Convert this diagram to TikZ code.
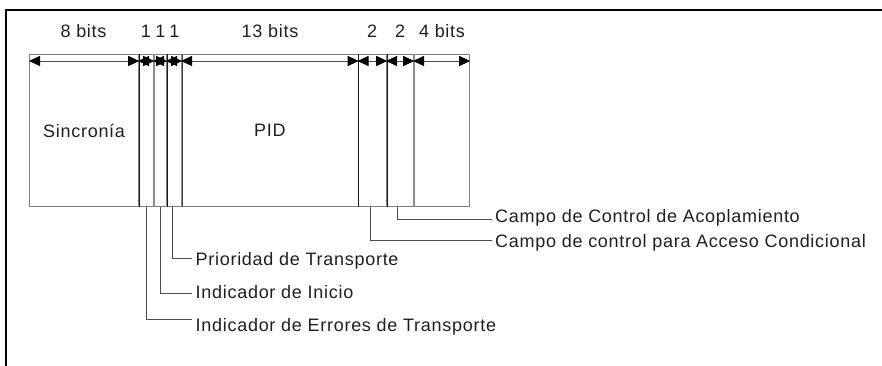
\documentclass[tikz,border=0pt]{standalone}
\usepackage{fontspec}
\setmainfont{Liberation Sans}[LetterSpace=4]
\usetikzlibrary{arrows.meta}
\begin{document}
\begin{tikzpicture}[x=1pt,y=-1pt,
  field/.style={draw=black!50,line width=1.2pt,inner sep=0pt,anchor=north west,minimum height=152pt,text=black!88},
  blk/.style={draw=black!90,line width=1pt},
  gry/.style={draw=black!45,line width=2.2pt},
  dim/.style={draw=black!70,line width=1pt,{Triangle[length=11pt,width=10pt,color=black,fill=black]}-{Triangle[length=11pt,width=10pt,color=black,fill=black]}},
  toplbl/.style={inner sep=0pt,text=black!88,text height=13pt,text depth=0pt},
  lead/.style={draw=black!70,line width=1pt},
  lbl/.style={anchor=west,inner xsep=3.5pt,inner ysep=0pt,text=black!88,text height=13pt,text depth=0pt},
  frame/.style={draw=black,line width=2.5pt}
]
\useasboundingbox (0,0) rectangle (882,365);
\fontsize{18}{21}\selectfont
% frame (partial)
\coordinate (ftl) at (6,10);
\coordinate (ftr) at (884,10);
\coordinate (fbl) at (6,367);
\draw[frame] (fbl) -- (ftl) -- (ftr);
% fields
\node[field,minimum width=109pt] (sync) at (29,54) {Sincronía};
\node[field,minimum width=15pt] (tei) at (138,54) {};
\node[field,minimum width=13pt] (pusi) at (153,54) {};
\node[field,minimum width=15pt] (prio) at (166,54) {};
\node[field,minimum width=176.5pt] (pid) at (181,54) {PID};
\node[field,minimum width=28.5pt] (tsc) at (357.5,54) {};
\node[field,minimum width=27pt] (afc) at (386,54) {};
\node[field,minimum width=56pt] (cc) at (413,54) {};
% dividers
\draw[blk] (sync.north east) -- (sync.south east);
\draw[blk] (pusi.north east) -- (pusi.south east);
\draw[blk] (pid.north east) -- (pid.south east);
\draw[blk] (tsc.north east) -- (tsc.south east);
\draw[gry] (tei.north east) -- (tei.south east);
\draw[gry] (prio.north east) -- (prio.south east);
\draw[gry] (afc.north east) -- (afc.south east);
\draw[draw=black!75,line width=0.8pt] ([xshift=0.6pt]prio.north east) -- ([xshift=0.6pt]prio.south east);
% dimension arrows
\draw[dim] ([yshift=-7pt]sync.north west) -- ([yshift=-7pt]sync.north east);
\draw[dim] ([yshift=-7pt]tei.north west) -- ([yshift=-7pt]tei.north east);
\draw[dim] ([yshift=-7pt]pusi.north west) -- ([yshift=-7pt]pusi.north east);
\draw[dim] ([yshift=-7pt]prio.north west) -- ([yshift=-7pt]prio.north east);
\draw[dim] ([yshift=-7pt]pid.north west) -- ([yshift=-7pt]pid.north east);
\draw[dim] ([yshift=-7pt]tsc.north west) -- ([yshift=-7pt]tsc.north east);
\draw[dim] ([yshift=-7pt]afc.north west) -- ([yshift=-7pt]afc.north east);
\draw[dim] ([yshift=-7pt]cc.north west) -- ([yshift=-7pt]cc.north east);
% top labels
\node[toplbl] (l8) at (83.5,31) {8 bits};
\node[toplbl] (l1a) at (146,31) {1};
\node[toplbl] (l1b) at (160.5,31) {1};
\node[toplbl] (l1c) at (174.5,31) {1};
\node[toplbl] (l13) at (270,31) {13 bits};
\node[toplbl] (l2a) at (372,31) {2};
\node[toplbl] (l2b) at (400,31) {2};
\node[toplbl] (l4) at (442,31) {4 bits};
% bottom labels
\node[lbl] (tprio) at (192,259) {Prioridad de Transporte};
\node[lbl] (tpusi) at (192,292) {Indicador de Inicio};
\node[lbl] (ttei) at (192,325) {Indicador de Errores de Transporte};
\node[lbl] (tafc) at (491.5,216) {Campo de Control de Acoplamiento};
\node[lbl] (ttsc) at (491.5,241) {Campo de control para Acceso Condicional};
% leaders
\draw[lead] ([xshift=-1.5pt]prio.south) |- ([yshift=1pt]tprio.west);
\draw[lead] (pusi.south) |- ([yshift=-1pt]tpusi.west);
\draw[lead] (tei.south) |- ([yshift=6pt]ttei.west);
\draw[lead] ([xshift=-2.5pt]afc.south) |- ([yshift=-3pt]tafc.west);
\draw[lead] ([xshift=-1.5pt]tsc.south) |- ([yshift=1pt]ttsc.west);
\end{tikzpicture}
\end{document}
